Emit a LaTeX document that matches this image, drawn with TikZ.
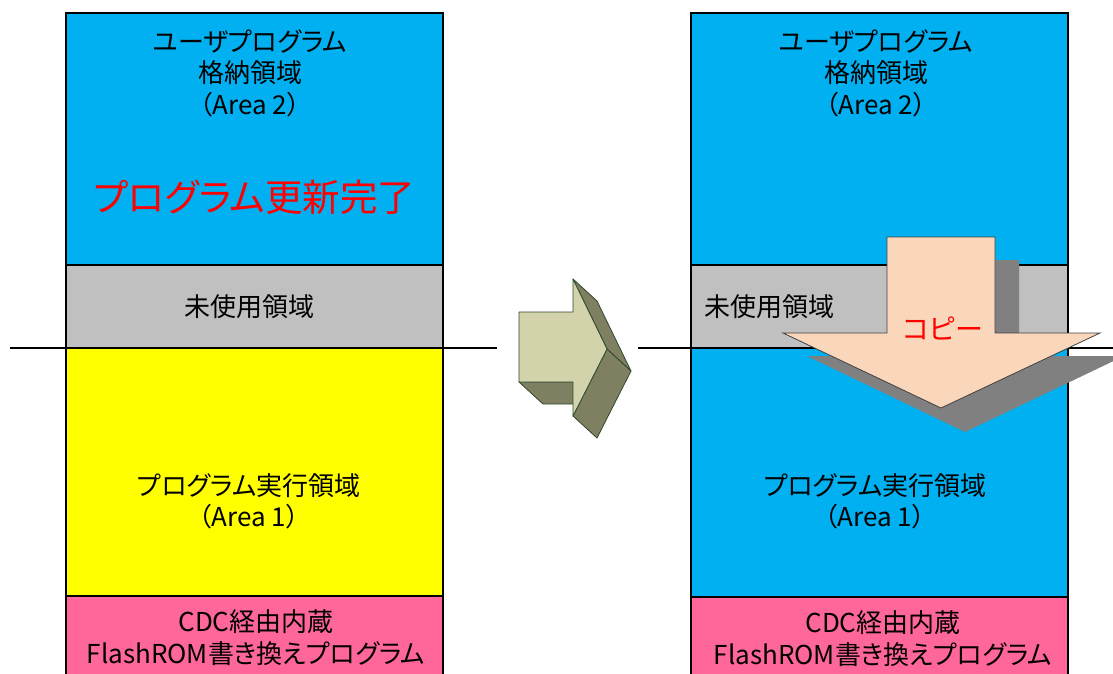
\documentclass[tikz,border=0pt]{standalone}
\usepackage{fontspec}
\setmainfont[RawFeature=+palt]{Noto Sans CJK JP}
\usetikzlibrary{positioning}
\definecolor{AREA_BLUE}{HTML}{00B0F0}
\definecolor{FREE_GRAY}{HTML}{C0C0C0}
\definecolor{EXEC_YELLOW}{HTML}{FFFF00}
\definecolor{CDC_PINK}{HTML}{FF6699}
\definecolor{ARROW_FACE}{HTML}{D3D3AB}
\definecolor{ARROW_SIDE}{HTML}{7F7F62}
\definecolor{ARROW_EDGE}{HTML}{2D4A2D}
\definecolor{COPY_FILL}{HTML}{FAD7BB}
\definecolor{COPY_SHADOW}{HTML}{808080}
\tikzset{
	every node/.style = {font=\fontsize{26}{31.5}\selectfont, align=center, inner sep=0pt},
	region/.style = {draw=black, line width=1.2pt},
	cutline/.style = {draw=black, line width=1.2pt},
	side/.style = {fill=ARROW_SIDE, draw=ARROW_EDGE, line width=0.8pt, line join=round}
}

\begin{document}
\begin{tikzpicture}[x=1pt, y=-1pt]
		\useasboundingbox (0,0) rectangle (1113,673);
		\clip (0,0) rectangle (1113,673);
		% before copy
		\draw[region, fill=AREA_BLUE] (66,13) rectangle (443,265);
		\draw[region, fill=FREE_GRAY] (66,265) rectangle (443,348);
		\draw[region, fill=EXEC_YELLOW] (66,348) rectangle (443,596);
		\draw[region, fill=CDC_PINK] (66,596) rectangle (443,690);
		\node (userL) at (250,73) {ユーザプログラム\\格納領域\\（Area 2）};
		\node[text=red, font=\fontsize{37.5}{40}\selectfont] (doneL) at (254.5,197) {プログラム更新完了};
		\node (freeL) at (249,306.5) {未使用領域};
		\node (execL) at (249,501.5) {プログラム実行領域\\（Area 1）};
		\node (cdcL) at (256,637.5) {CDC経由内蔵\\FlashROM書き換えプログラム};
		\coordinate (cutL1) at (10,348);
		\coordinate (cutL2) at (497,348);
		\draw[cutline] (cutL1) -- (cutL2);
		% block arrow in between
		\draw[side] (519,382) -- (573,382) -- (597,404) -- (543,404) -- cycle;
		\draw[side] (573,279) -- (597,301) -- (631,371) -- (607,349) -- cycle;
		\draw[side] (607,349) -- (631,371) -- (597,438) -- (573,416) -- cycle;
		\draw[fill=ARROW_FACE, draw=ARROW_EDGE, line width=0.8pt, line join=round]
		      (519,312) -- (573,312) -- (573,279) -- (607,349) -- (573,416) -- (573,382) -- (519,382) -- cycle;
		% after copy
		\draw[region, fill=AREA_BLUE] (691,13) rectangle (1068,265);
		\draw[region, fill=FREE_GRAY] (691,265) rectangle (1068,348);
		\draw[region, fill=AREA_BLUE] (691,348) rectangle (1068,597);
		\draw[region, fill=CDC_PINK] (691,597) rectangle (1068,690);
		\node (userR) at (876,73) {ユーザプログラム\\格納領域\\（Area 2）};
		\node[anchor=west] (freeR) at (704,307) {未使用領域};
		\node (execR) at (875,501.5) {プログラム実行領域\\（Area 1）};
		\node (cdcR) at (883,638.5) {CDC経由内蔵\\FlashROM書き換えプログラム};
		\coordinate (cutR1) at (638,348);
		\coordinate (cutR2) at (1120,348);
		\draw[cutline] (cutR1) -- (cutR2);
		% copy arrow
		\fill[COPY_SHADOW] (911,260) -- (1019,260) -- (1019,356) -- (1124,356) -- (965,432) -- (807,356) -- (911,356) -- cycle;
		\draw[fill=COPY_FILL, draw=black!75, line width=0.8pt]
		      (887,237) -- (995,237) -- (995,333) -- (1100,333) -- (941,408) -- (783,333) -- (887,333) -- cycle;
		\node[text=red, font=\fontsize{28}{30}\selectfont] (copyR) at (943,328) {コピー};
	\end{tikzpicture}
\end{document}
